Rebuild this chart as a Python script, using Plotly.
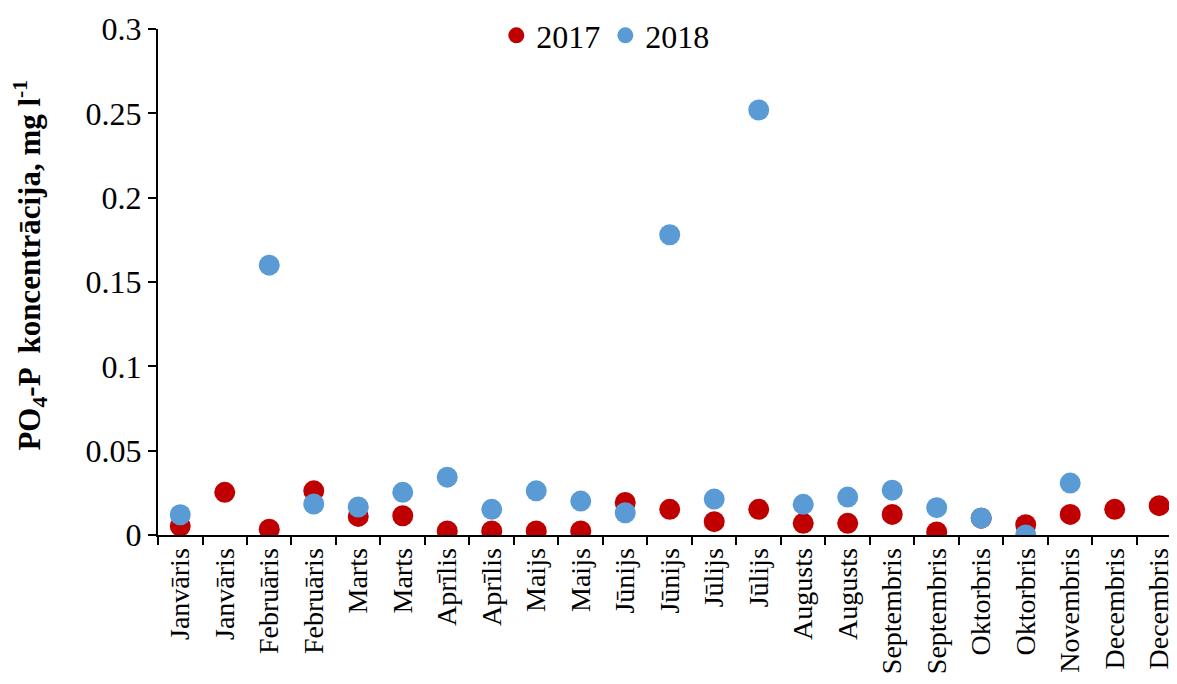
import plotly.graph_objects as go

# x categories (duplicated month names, two samples per month)
months = [
    "Janvāris", "Janvāris", "Februāris", "Februāris", "Marts", "Marts",
    "Aprīlis", "Aprīlis", "Maijs", "Maijs", "Jūnijs", "Jūnijs",
    "Jūlijs", "Jūlijs", "Augusts", "Augusts", "Septembris", "Septembris",
    "Oktorbris", "Oktorbris", "Novembris", "Decembris", "Decembris",
]

po4_2017 = [
    0.0053, 0.0253, 0.0034, 0.0262, 0.0110, 0.0114, 0.0024, 0.0024,
    0.0024, 0.0024, 0.0193, 0.0152, 0.0079, 0.0152, 0.0069, 0.0069,
    0.0122, 0.0018, 0.0100, 0.0061, 0.0122, 0.0152, 0.0174,
]
po4_2018 = [
    0.0120, None, 0.160, 0.0184, 0.0166, 0.0253, 0.0343, 0.0152,
    0.0262, 0.0201, 0.0132, 0.178, 0.0213, 0.252, 0.0182, 0.0225,
    0.0266, 0.0162, 0.0101, 0.0, 0.0308, None, None,
]

y_ticks = [0, 0.05, 0.1, 0.15, 0.2, 0.25, 0.3]
y_ticktext = ["0", "0.05", "0.1", "0.15", "0.2", "0.25", "0.3"]

FONT = "Liberation Serif"
RED = "#C00000"
BLUE = "#5B9BD5"

x_pos = list(range(len(months)))

fig = go.Figure()
fig.add_trace(go.Scatter(
    x=x_pos, y=po4_2017, mode="markers", name="2017",
    marker={"color": RED, "size": 21},
))
fig.add_trace(go.Scatter(
    x=x_pos, y=po4_2018, mode="markers", name="2018",
    marker={"color": BLUE, "size": 21},
))

# y-axis title as an annotation so it can sit where the original has it
fig.add_annotation(
    text="<b>PO<sub>4</sub>-P  koncentrācija, mg l<sup>-1</sup></b>",
    xref="paper", yref="paper",
    x=-0.1256, y=0.5325,
    xanchor="center", yanchor="middle",
    textangle=-90,
    showarrow=False,
    font={"family": FONT, "size": 31, "color": "black"},
)

fig.update_layout(
    # the page adds an 8px body margin, so the figure is trimmed to fit
    width=1169,
    height=676,
    plot_bgcolor="white",
    paper_bgcolor="white",
    font={"family": FONT, "color": "black"},
    margin={"l": 150, "r": 0, "t": 20, "b": 149, "pad": 0},
    showlegend=True,
    legend={
        "orientation": "h",
        "x": 0.439,
        "xanchor": "center",
        "y": 0.987,
        "yanchor": "middle",
        "font": {"family": FONT, "size": 32},
        "itemwidth": 30,
        "tracegroupgap": 0,
        "bgcolor": "rgba(0,0,0,0)",
    },
    xaxis={
        "range": [-0.5, 22.4],
        "automargin": False,
        "tickvals": x_pos,
        "ticktext": months,
        "tickangle": -90,
        "ticks": "",
        "tickfont": {"family": FONT, "size": 28},
        "showgrid": False,
        "zeroline": False,
        "showline": True,
        "linecolor": "black",
        "linewidth": 2,
        "minor": {
            "tickvals": [i - 0.5 for i in x_pos],
            "ticks": "outside",
            "ticklen": 8,
            "tickwidth": 2,
            "tickcolor": "black",
            "showgrid": False,
        },
    },
    yaxis={
        "range": [0, 0.3],
        "automargin": False,
        "tickvals": y_ticks,
        "ticktext": y_ticktext,
        "ticks": "outside",
        "ticklen": 8,
        "tickwidth": 2,
        "tickcolor": "black",
        "tickfont": {"family": FONT, "size": 32},
        "showgrid": False,
        "zeroline": False,
        "showline": True,
        "linecolor": "black",
        "linewidth": 2,
    },
)

fig.write_html("out.html")
